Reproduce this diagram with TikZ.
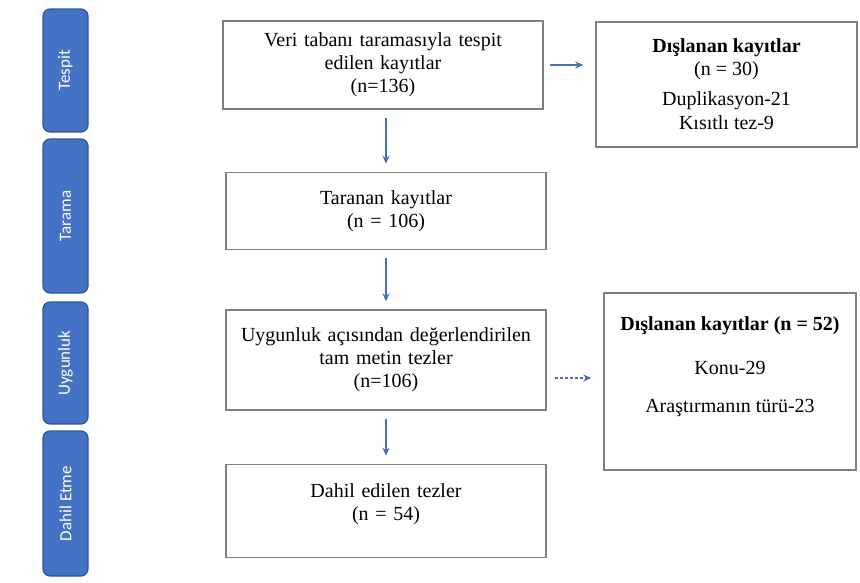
\documentclass[tikz,border=0pt]{standalone}
\usepackage{fontspec}
\setmainfont{Liberation Serif}
\newfontfamily\tabfont{Carlito}
\usepackage{xcolor}
\usetikzlibrary{shapes, arrows.meta, positioning}
\definecolor{tabblue}{HTML}{4472C4}
\definecolor{tabedge}{HTML}{2F5597}
\definecolor{boxedge}{HTML}{808080}
\definecolor{arrowblue}{HTML}{4A6FB5}

\begin{document}
\begin{tikzpicture}[
        x=1pt, y=-1pt,
        stage/.style={rectangle, rotate=90, draw=tabedge, fill=tabblue, line width=1.2pt, rounded corners=7pt, minimum height=45pt, text=white, font=\tabfont\fontsize{17}{19}\selectfont},
        mainbox/.style={rectangle, draw=boxedge, line width=1.5pt, minimum width=320pt, text width=314pt, inner xsep=3pt, align=center, font=\fontsize{20}{23}\selectfont},
        sidebox/.style={rectangle, draw=boxedge, line width=1.5pt, align=center, font=\fontsize{20}{23}\selectfont},
        arrow/.style={draw=arrowblue, line width=1.1pt, -{Stealth[length=8pt,width=7pt]}, shorten <=8pt, shorten >=8pt}
    ]
    \useasboundingbox (0,0) rectangle (860,582);

    \node [stage, minimum width=123pt] (tespit) at (65.5,70.5) {Tespit};
    \node [stage, minimum width=154pt] (tarama) at (65.5,216) {Tarama};
    \node [stage, minimum width=122pt] (uygunluk) at (65.5,363) {Uygunluk};
    \node [stage, minimum width=145pt] (dahiletme) at (65.5,503.5) {Dahil Etme};

    \node [mainbox, minimum width=314pt, minimum height=88pt] (veri) at (383,65) {Veri tabanı taramasıyla tespit\\edilen kayıtlar\\(n=136)};
    \node [mainbox, minimum height=77pt, below=62pt of veri, xshift=3pt] (taranan) {Taranan kayıtlar\\(n = 106)};
    \node [mainbox, minimum height=100pt, below=59pt of taranan] (uygun) {Uygunluk açısından değerlendirilen\\tam metin tezler\\(n=106)};
    \node [mainbox, minimum height=93pt, below=53pt of uygun] (dahil) {Dahil edilen tezler\\(n = 54)\\[-6pt]\mbox{}};

    \node [sidebox, minimum width=261pt, minimum height=125pt] (dis1) at (726.5,84.5) {\textbf{Dışlanan kayıtlar}\\(n = 30)\\[7pt]Duplikasyon-21\\[1pt]Kısıtlı tez-9};
    \node [sidebox, minimum width=252pt, minimum height=177pt] (dis2) at (730,381.5) {\textbf{Dışlanan kayıtlar (n = 52)}\\[21pt]Konu-29\\[15pt]Araştırmanın türü-23\\[10pt]\mbox{}};

    \draw [arrow] (veri.south -| taranan.north) -- (taranan.north);
    \draw [arrow] (taranan) -- (uygun);
    \draw [arrow] (uygun) -- (dahil);

    \draw [arrow, shorten <=6pt, shorten >=12pt] (veri.east) -- (veri.east -| dis1.west);
    \draw [arrow, dash pattern=on 3pt off 2pt, shorten <=8pt, shorten >=12pt] ([yshift=-18pt]uygun.east) -- ([yshift=-18pt]uygun.east -| dis2.west);

\end{tikzpicture}
\end{document}
